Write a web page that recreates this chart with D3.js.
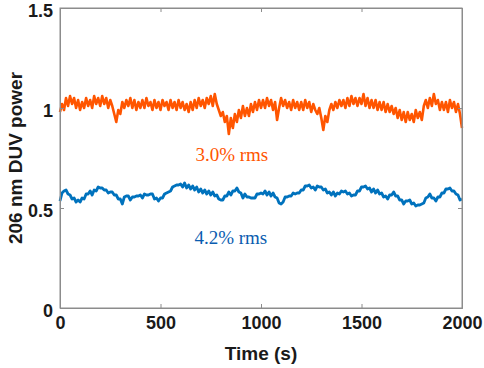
<!DOCTYPE html>
<html><head><meta charset="utf-8">
<script src="https://cdn.jsdelivr.net/npm/d3@7"></script>
<style>body{margin:0;background:#fff}svg{display:block}</style>
</head><body>
<script>
const timeStep = 10; // seconds between samples
const orangePower = [
0.98,1.02,0.99,1.05,1.01,1.06,1.02,1.05,1.00,1.04,0.99,1.03,1.00,1.05,1.01,1.04,1.00,1.06,1.02,1.05,1.01,
1.06,1.02,1.05,1.00,1.04,1.01,0.97,0.93,0.99,0.97,1.03,1.00,1.04,1.01,1.05,1.00,1.04,0.99,1.03,1.00,
1.04,1.00,1.05,1.01,1.03,0.99,1.04,1.00,1.03,0.99,1.04,1.01,1.03,0.99,1.04,1.00,1.03,0.99,1.04,1.00,
1.03,0.99,1.02,0.98,1.03,0.99,1.04,1.00,1.05,1.01,1.04,1.00,1.05,1.02,1.06,1.01,1.07,1.02,0.99,0.96,
0.98,0.93,0.96,0.87,0.95,0.90,0.97,0.93,0.99,0.95,1.01,0.96,1.00,0.96,1.02,0.98,1.03,0.99,1.04,1.00,
1.04,1.00,1.05,1.01,1.04,0.99,1.03,0.94,1.00,1.05,1.01,1.04,1.00,1.03,0.99,1.04,1.00,1.03,0.99,1.03,
0.99,1.04,1.00,1.03,0.98,1.02,0.99,0.97,1.00,0.95,0.89,0.96,0.93,0.99,1.02,0.99,1.03,1.00,1.04,1.01,
1.04,1.00,1.05,1.01,1.06,1.02,1.05,1.01,1.05,1.02,1.07,1.01,1.05,1.00,1.04,1.00,1.04,0.99,1.03,0.99,
1.03,0.98,1.02,0.98,1.01,0.97,1.00,0.95,0.99,0.94,0.98,0.93,0.98,0.94,0.97,0.93,0.99,0.95,0.98,0.94,
1.01,1.04,1.00,1.05,1.01,1.07,1.02,1.04,0.99,1.03,0.99,1.03,0.98,1.04,1.00,1.03,0.98,1.02,0.97,0.90
];
const bluePower = [
0.535,0.575,0.585,0.59,0.57,0.565,0.545,0.55,0.53,0.54,0.53,0.55,0.545,0.57,0.57,0.585,0.565,0.59,0.585,0.605,0.60,
0.60,0.59,0.59,0.575,0.58,0.58,0.565,0.565,0.545,0.545,0.52,0.555,0.56,0.56,0.54,0.555,0.555,0.56,0.56,0.565,
0.55,0.57,0.565,0.565,0.57,0.57,0.545,0.55,0.535,0.55,0.55,0.57,0.575,0.58,0.585,0.605,0.61,0.615,0.615,0.62,
0.605,0.625,0.60,0.615,0.595,0.61,0.59,0.605,0.58,0.595,0.575,0.59,0.57,0.585,0.565,0.58,0.56,0.565,0.545,0.54,
0.54,0.56,0.56,0.58,0.565,0.585,0.585,0.60,0.58,0.575,0.55,0.57,0.555,0.555,0.55,0.55,0.55,0.57,0.57,0.575,
0.57,0.585,0.565,0.58,0.56,0.575,0.555,0.55,0.525,0.52,0.53,0.555,0.555,0.56,0.56,0.575,0.57,0.575,0.575,0.59,
0.59,0.61,0.61,0.615,0.60,0.605,0.59,0.61,0.605,0.605,0.59,0.595,0.575,0.58,0.565,0.58,0.56,0.575,0.57,0.585,
0.58,0.585,0.57,0.575,0.56,0.565,0.565,0.585,0.585,0.605,0.605,0.61,0.595,0.60,0.58,0.595,0.575,0.59,0.57,0.575,
0.555,0.56,0.545,0.565,0.565,0.58,0.56,0.56,0.54,0.54,0.52,0.535,0.535,0.54,0.52,0.525,0.51,0.515,0.515,0.52,
0.525,0.55,0.555,0.57,0.55,0.55,0.535,0.555,0.555,0.575,0.575,0.595,0.595,0.60,0.585,0.585,0.57,0.565,0.54,0.545
];
const xTicks = [0, 500, 1000, 1500, 2000];
const yTicks = [0, 0.5, 1, 1.5];
const yTickLabels = ["0", "0.5", "1", "1.5"];
const annotations = [
  {text: "3.0% rms", t: 855, v: 0.735, color: "#ff5500"},
  {text: "4.2% rms", t: 850, v: 0.32, color: "#0a5db0"}
];
const xLabel = "Time (s)";
const yLabel = "206 nm DUV power";

const W = 484, H = 368;
const m = {left: 60, right: 22, top: 8, bottom: 60};
const svg = d3.select("body").append("svg").attr("width", W).attr("height", H);
const x = d3.scaleLinear().domain([0, 2000]).range([m.left, W - m.right]);
const y = d3.scaleLinear().domain([0, 1.5]).range([H - m.bottom, m.top]);
const axisColor = "#8c8c8c";
const font = "Arial, 'Liberation Sans', sans-serif";

// series
const line = d3.line().x((d, i) => x(i * timeStep)).y(d => y(d));
svg.append("path").datum(orangePower).attr("d", line)
  .attr("fill", "none").attr("stroke", "#ff5500").attr("stroke-width", 2.6).attr("stroke-linejoin", "round");
svg.append("path").datum(bluePower).attr("d", line)
  .attr("fill", "none").attr("stroke", "#0072bd").attr("stroke-width", 2.8).attr("stroke-linejoin", "round");

// box
svg.append("rect").attr("x", x(0)).attr("y", y(1.5)).attr("width", x(2000) - x(0)).attr("height", y(0) - y(1.5))
  .attr("fill", "none").attr("stroke", axisColor).attr("stroke-width", 1);

// axes
const tl = 4;
const gx = svg.append("g").attr("transform", `translate(0,${y(0)})`)
  .call(d3.axisBottom(x).tickValues(xTicks).tickSize(-tl).tickPadding(8).tickFormat(d3.format("d")));
const gxt = svg.append("g").attr("transform", `translate(0,${y(1.5)})`)
  .call(d3.axisTop(x).tickValues(xTicks).tickSize(-tl).tickFormat(""));
const gy = svg.append("g").attr("transform", `translate(${x(0)},0)`)
  .call(d3.axisLeft(y).tickValues(yTicks).tickSize(-tl).tickPadding(7).tickFormat((d, i) => yTickLabels[i]));
const gyr = svg.append("g").attr("transform", `translate(${x(2000)},0)`)
  .call(d3.axisRight(y).tickValues(yTicks).tickSize(-tl).tickFormat(""));
[gx, gxt, gy, gyr].forEach(g => {
  g.select(".domain").attr("stroke", axisColor);
  g.selectAll(".tick line").attr("stroke", axisColor);
  g.selectAll("text").attr("font-family", font).attr("font-size", 18).attr("font-weight", "bold").attr("fill", "#1a1a1a");
});
gy.selectAll("text").attr("dy", "0.45em");

// labels
svg.append("text").attr("x", (x(0) + x(2000)) / 2).attr("y", 360).attr("text-anchor", "middle")
  .attr("font-family", font).attr("font-size", 19).attr("font-weight", "bold").attr("fill", "#1a1a1a").text(xLabel);
svg.append("text").attr("transform", `translate(22,${(y(0) + y(1.5)) / 2}) rotate(-90)`).attr("text-anchor", "middle")
  .attr("font-family", font).attr("font-size", 19).attr("font-weight", "bold").attr("fill", "#1a1a1a").text(yLabel);

svg.selectAll(".anno").data(annotations).enter().append("text")
  .attr("x", d => x(d.t)).attr("y", d => y(d.v)).attr("text-anchor", "middle")
  .attr("font-family", "'Liberation Serif', 'Times New Roman', serif").attr("font-size", 19)
  .attr("fill", d => d.color).text(d => d.text);
</script>
</body></html>
